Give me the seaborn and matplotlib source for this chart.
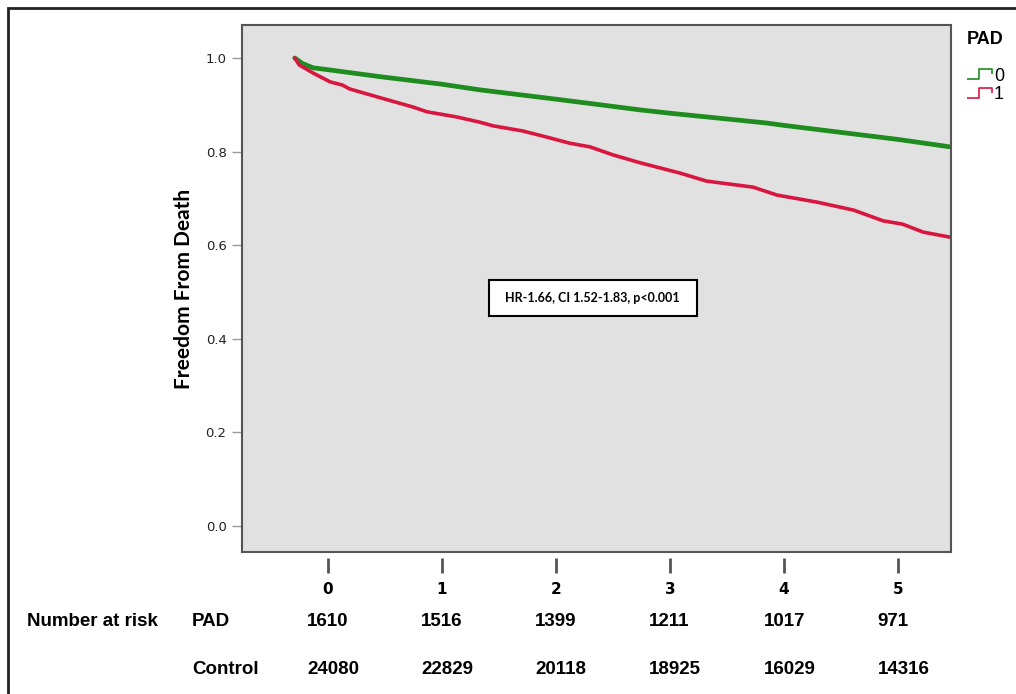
import pandas as pd
import seaborn as sns
import matplotlib.pyplot as plt
import matplotlib.patches as mpatches
from matplotlib.lines import Line2D
from matplotlib.path import Path

# survival curves (years, freedom from death)
t_ctrl = [-0.29, -0.22, -0.13, 0.0, 0.46, 1.0, 1.33, 2.0, 2.39, 2.74, 3.0, 3.85, 4.0, 5.0, 5.46]
s_ctrl = [1.0, 0.988, 0.979, 0.975, 0.96, 0.944, 0.932, 0.912, 0.90, 0.889, 0.882, 0.861, 0.856, 0.826, 0.81]

t_pad = [-0.29, -0.25, -0.13, 0.02, 0.13, 0.19, 0.46, 0.75, 0.87, 1.13, 1.33, 1.45, 1.71, 1.92,
         2.12, 2.30, 2.50, 2.74, 3.09, 3.32, 3.73, 3.94, 4.29, 4.61, 4.87, 5.04, 5.22, 5.46]
s_pad = [1.0, 0.985, 0.968, 0.949, 0.942, 0.934, 0.915, 0.895, 0.885, 0.874, 0.863, 0.855, 0.844, 0.831,
         0.818, 0.810, 0.793, 0.776, 0.754, 0.737, 0.724, 0.707, 0.692, 0.675, 0.652, 0.645, 0.628, 0.617]

years = [0, 1, 2, 3, 4, 5]
risk_pad = [1610, 1516, 1399, 1211, 1017, 971]
risk_ctrl = [24080, 22829, 20118, 18925, 16029, 14316]

colors = {"0": "#1e8c1e", "1": "#d8163f"}

df = pd.concat([
    pd.DataFrame({"time": t_ctrl, "surv": s_ctrl, "PAD": "0"}),
    pd.DataFrame({"time": t_pad, "surv": s_pad, "PAD": "1"}),
])

sns.set_style("white", {"axes.facecolor": "#e1e1e1", "axes.edgecolor": "#555555",
                        "text.color": "black", "axes.labelcolor": "black"})

fig = plt.figure(figsize=(10.16, 6.94), dpi=100)
ax = fig.add_axes([0.238, 0.2046, 0.698, 0.7594])

sns.lineplot(data=df[df.PAD == "0"], x="time", y="surv", color=colors["0"], lw=3.4,
             estimator=None, sort=False, ax=ax, legend=False)
sns.lineplot(data=df[df.PAD == "1"], x="time", y="surv", color=colors["1"], lw=2.6,
             estimator=None, sort=False, ax=ax, legend=False)

ax.set_xlim(-0.754, 5.465)
ax.set_ylim(-0.0556, 1.0705)
for s in ax.spines.values():
    s.set_linewidth(1.5)

ax.set_yticks([0.0, 0.2, 0.4, 0.6, 0.8, 1.0])
ax.set_yticklabels(["0.0", "0.2", "0.4", "0.6", "0.8", "1.0"], fontsize=9.5, color="#222222")
ax.tick_params(axis="y", left=True, length=7, width=1, color="#999999", pad=4)
ax.set_xticks([])
ax.set_xlabel("")
ax.set_ylabel("Freedom From Death", fontsize=15, fontweight="bold", family="Lato",
              labelpad=8, color="black")

# detached x ticks, as in the original
sec = ax.secondary_xaxis(-0.012)
sec.set_xticks(years)
sec.set_xticklabels([str(y) for y in years], fontweight="bold", fontsize=11,
                    family="DejaVu Sans", color="black")
sec.spines["bottom"].set_visible(False)
sec.tick_params(length=11, width=2, color="#555555", pad=6)

# hazard ratio box
ax.add_patch(mpatches.Rectangle((1.41, 0.449), 1.83, 0.077, facecolor="white",
                                edgecolor="black", lw=1.5, zorder=5))
ax.text(2.32, 0.488, "HR-1.66, CI 1.52-1.83, p<0.001", ha="center", va="center",
        fontsize=9, fontweight="bold", family="Lato", color="black", zorder=6)

# legend with step-shaped keys
step = Path([(-1, -0.4), (0, -0.4), (0, 0.4), (1, 0.4), (1, 0.0)],
            [Path.MOVETO, Path.LINETO, Path.LINETO, Path.LINETO, Path.LINETO])
handles = [Line2D([], [], ls="", marker=step, markersize=18, mfc="none", mec=colors[k], mew=1.2)
           for k in ["0", "1"]]
leg = fig.legend(handles, ["0", "1"], title="PAD", loc="upper left",
                 bbox_to_anchor=(0.952, 0.955), frameon=False, handlelength=1.3,
                 handletextpad=0.15, labelspacing=0.1, borderaxespad=0, borderpad=0,
                 prop={"family": "Liberation Sans", "size": 13})
leg.get_title().set_fontweight("bold")
leg.get_title().set_fontsize(13)
leg.get_title().set_family("Liberation Sans")
leg.get_title().set_color("black")
leg._legend_box.align = "right"
leg._legend_box.sep = 14
for txt in leg.get_texts():
    txt.set_color("black")

# number at risk table
tr = ax.get_xaxis_transform()
bold = dict(fontsize=13.5, fontweight="bold", family="Liberation Sans", va="center", color="black")
fig.text(27 / 1016, 1 - 621 / 694, "Number at risk", ha="left", **bold)
fig.text(192 / 1016, 1 - 621 / 694, "PAD", ha="left", **bold)
fig.text(192 / 1016, 1 - 669 / 694, "Control", ha="left", **bold)
y_pad = (1 - 621 / 694 - 0.2046) / 0.7594
y_ctrl = (1 - 669 / 694 - 0.2046) / 0.7594
for yr, a, b in zip(years, risk_pad, risk_ctrl):
    ax.text(yr - 0.18, y_pad, str(a), ha="left", transform=tr, clip_on=False, **bold)
    ax.text(yr - 0.18, y_ctrl, str(b), ha="left", transform=tr, clip_on=False, **bold)

# outer frame (cut off at right and bottom in the original)
fig.patches.append(mpatches.Rectangle((8 / 1016, -0.2), 1.2, 1 - 8 / 694 + 0.2, fill=False,
                                      edgecolor="#222222", lw=2, transform=fig.transFigure))

fig.savefig("out.png", dpi=100)
